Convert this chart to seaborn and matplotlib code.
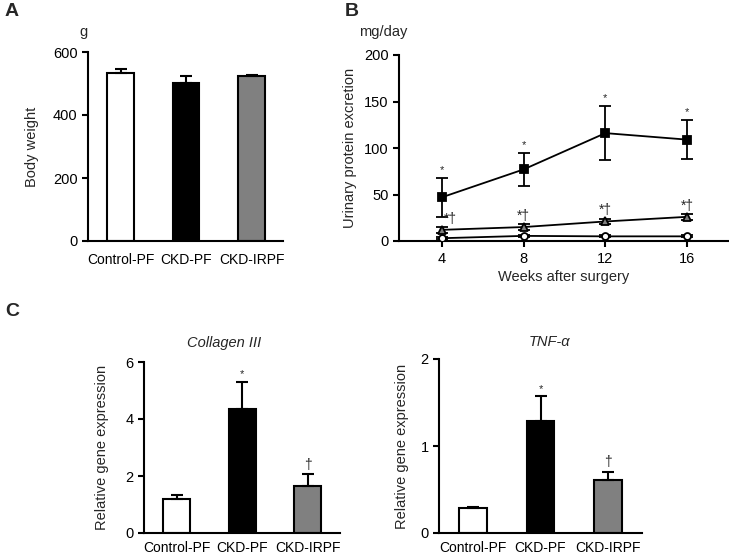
import matplotlib
matplotlib.use("Agg")
import matplotlib.pyplot as plt
import seaborn as sns
import pandas as pd
import numpy as np

# ---- data ----
groups = ["Control-PF", "CKD-PF", "CKD-IRPF"]
bar_colors = ["white", "black", "#808080"]

body_weight = [533, 502, 524]
body_weight_err = [14, 22, 3]

weeks = [4, 8, 12, 16]
ckd_pf_prot = [47, 77, 116, 109]
ckd_pf_prot_err = [21, 18, 29, 21]
ckd_irpf_prot = [12, 15, 21, 26]
ckd_irpf_prot_err = [3, 3, 3, 3]
control_prot = [3, 5.5, 5, 5]
control_prot_err = [1, 1, 1, 1]
prot_marks_ckd = ["*", "*", "*", "*"]
prot_marks_irpf = ["*†", "*†", "*†", "*†"]

col3 = [1.18, 4.35, 1.66]
col3_err = [0.17, 0.95, 0.40]
col3_marks = ["", "*", "†"]

tnfa = [0.29, 1.29, 0.61]
tnfa_err = [0.01, 0.28, 0.09]
tnfa_marks = ["", "*", "†"]

sns.set_style("ticks")
plt.rcParams["font.family"] = ["Liberation Sans", "DejaVu Sans"]
plt.rcParams["axes.linewidth"] = 1.5
plt.rcParams["xtick.major.width"] = 1.5
plt.rcParams["ytick.major.width"] = 1.5
plt.rcParams["xtick.major.size"] = 4
plt.rcParams["ytick.major.size"] = 4
plt.rcParams["xtick.color"] = "black"
plt.rcParams["ytick.color"] = "black"
plt.rcParams["axes.edgecolor"] = "black"

fig = plt.figure(figsize=(7.29, 5.54), dpi=100)
W, H = 729, 554


def axes_px(x0, x1, ytop, ybot):
    return fig.add_axes([x0 / W, 1 - ybot / H, (x1 - x0) / W, (ybot - ytop) / H])


def bar_panel(ax, vals, errs, marks, ylim, yticks, xlim, xpad):
    df = pd.DataFrame({"group": groups, "value": vals})
    sns.barplot(data=df, x="group", y="value", hue="group", palette=bar_colors,
                edgecolor="black", linewidth=1.5, width=0.41, legend=False, ax=ax,
                errorbar=None)
    x = np.arange(len(vals))
    ax.errorbar(x, vals, yerr=[np.zeros(len(vals)), errs], fmt="none",
                ecolor="black", elinewidth=1.5, capsize=4, capthick=1.5, zorder=1)
    for xi, v, e, m in zip(x, vals, errs, marks):
        if m:
            fs = 8 if m == "*" else 10
            ax.annotate(m, (xi, v + e), xytext=(0, 2), textcoords="offset points",
                        ha="center", va="bottom", fontsize=fs)
    ax.set_ylim(*ylim)
    ax.set_yticks(yticks)
    ax.set_xlim(*xlim)
    ax.set_xlabel("")
    ax.tick_params(axis="x", length=0, labelsize=10, pad=xpad)
    ax.tick_params(axis="y", labelsize=10.5)
    sns.despine(ax=ax)


# ---- Panel A ----
axA = axes_px(88, 283, 52, 241)
bar_panel(axA, body_weight, body_weight_err, ["", "", ""], (0, 600), [0, 200, 400, 600],
          (-0.496, 2.48), 9)
axA.set_ylabel("Body weight", fontsize=10.5, labelpad=10)
fig.text(83 / W, 1 - 32 / H, "g", fontsize=10.5, ha="center", va="center")
fig.text(12 / W, 1 - 12 / H, "A", fontsize=14, fontweight="bold", ha="center", va="center")

# ---- Panel B ----
axB = axes_px(399, 728, 55, 241)
series = [
    (ckd_pf_prot, ckd_pf_prot_err, "s", "black", 5.5),
    (ckd_irpf_prot, ckd_irpf_prot_err, "^", "#808080", 5.5),
    (control_prot, control_prot_err, "o", "white", 5),
]
for vals, errs, mk, fc, ms in series:
    ax_df = pd.DataFrame({"week": weeks, "val": vals})
    axB.errorbar(weeks, vals, yerr=errs, fmt="none", ecolor="black",
                 elinewidth=1.3, capsize=4, capthick=1.3, zorder=2)
    sns.lineplot(data=ax_df, x="week", y="val", color="black", linewidth=1.3,
                 marker=mk, markersize=ms, markerfacecolor=fc, markeredgecolor="black",
                 markeredgewidth=1.3, ax=axB, zorder=3)
for w, v, e, m in zip(weeks, ckd_pf_prot, ckd_pf_prot_err, prot_marks_ckd):
    axB.annotate(m, (w, v + e), xytext=(0, 2), textcoords="offset points",
                 ha="center", va="bottom", fontsize=8)
for i, (w, v, e, m) in enumerate(zip(weeks, ckd_irpf_prot, ckd_irpf_prot_err, prot_marks_irpf)):
    dx = 6 if i == 0 else 0
    axB.annotate(m, (w, v + e), xytext=(dx, 1), textcoords="offset points",
                 ha="center", va="bottom", fontsize=10)
axB.set_xlim(1.9, 18)
axB.set_ylim(0, 200)
axB.set_xticks(weeks)
axB.set_yticks([0, 50, 100, 150, 200])
axB.set_xlabel("Weeks after surgery", fontsize=10.5, labelpad=3)
axB.set_ylabel("Urinary protein excretion", fontsize=10.5, labelpad=5)
axB.tick_params(labelsize=10.5)
axB.tick_params(axis="x", pad=4)
sns.despine(ax=axB)
fig.text(383 / W, 1 - 32 / H, "mg/day", fontsize=10.5, ha="center", va="center")
fig.text(352 / W, 1 - 12 / H, "B", fontsize=14, fontweight="bold", ha="center", va="center")

# ---- Panel C ----
axC1 = axes_px(144, 340, 362, 533)
bar_panel(axC1, col3, col3_err, col3_marks, (0, 6), [0, 2, 4, 6], (-0.5, 2.49), 6)
axC1.set_ylabel("Relative gene expression", fontsize=10.5, labelpad=12)
axC2 = axes_px(439, 642, 359, 533)
bar_panel(axC2, tnfa, tnfa_err, tnfa_marks, (0, 2), [0, 1, 2], (-0.5, 2.5), 6)
axC2.set_ylabel("Relative gene expression", fontsize=10.5, labelpad=8)
fig.text(224 / W, 1 - 343 / H, "Collagen III", fontsize=10.5, style="italic",
         ha="center", va="center")
fig.text(550 / W, 1 - 342 / H, "TNF-α", fontsize=10.5, style="italic",
         ha="center", va="center")
fig.text(12 / W, 1 - 312 / H, "C", fontsize=14, fontweight="bold", ha="center", va="center")

fig.savefig("out.png", dpi=100, facecolor="white")
